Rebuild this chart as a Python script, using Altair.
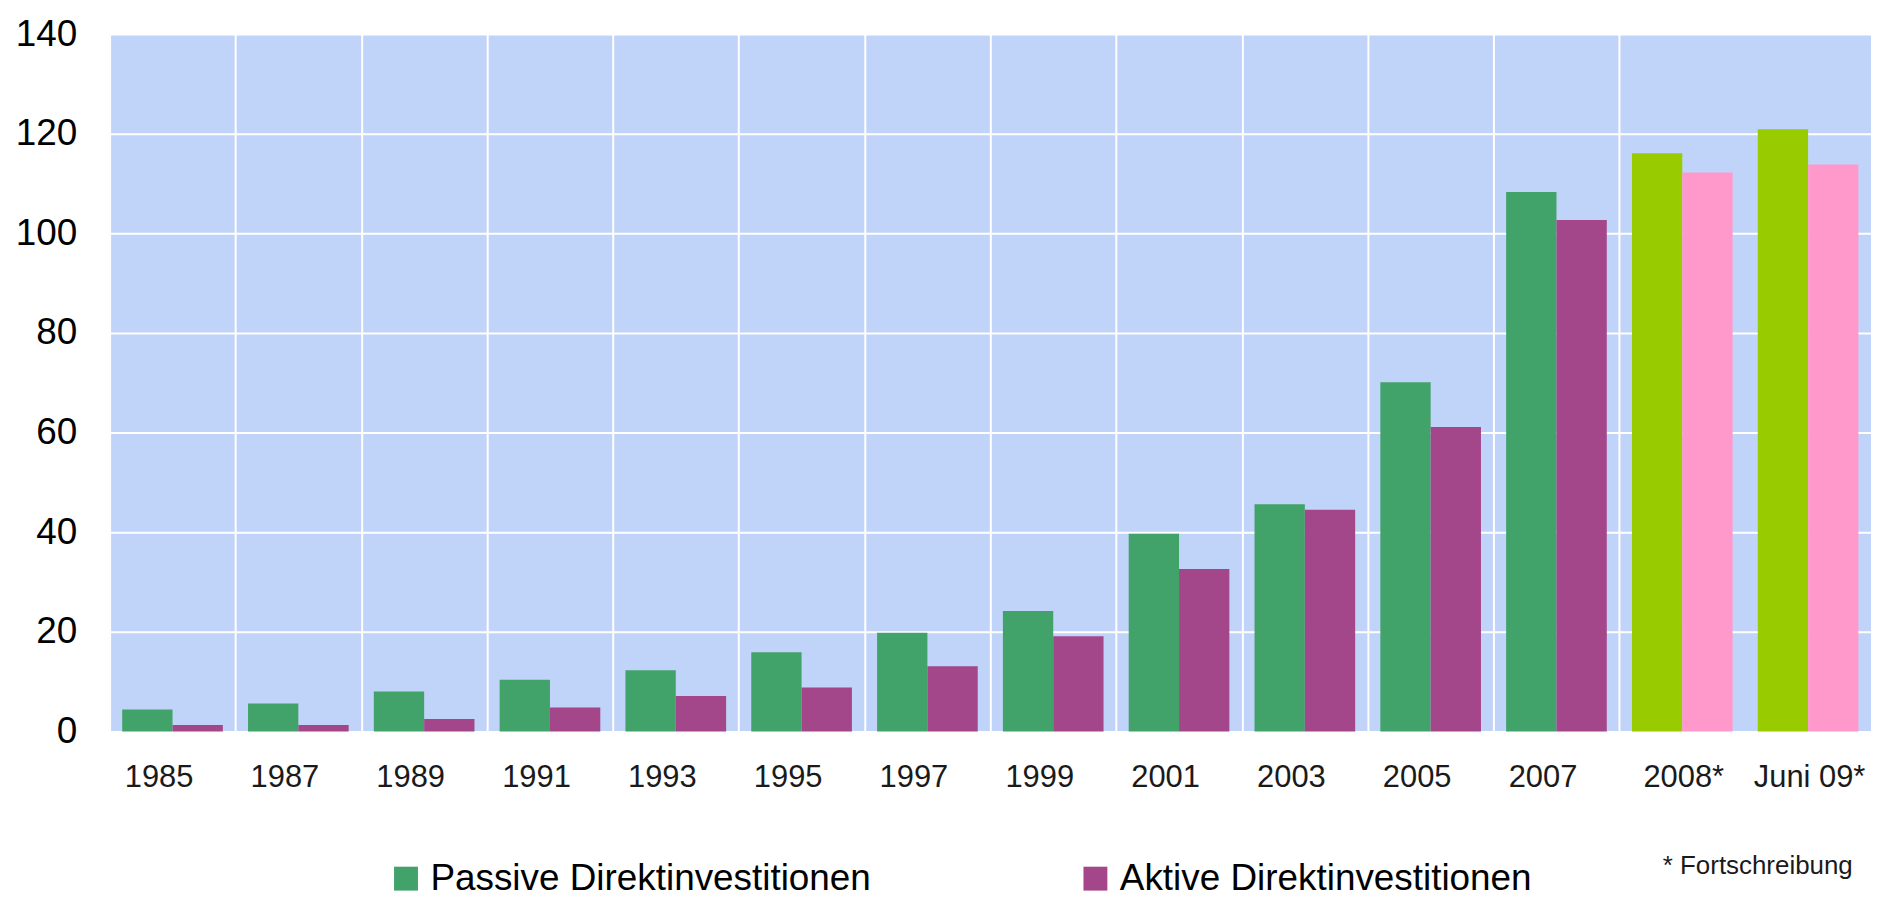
import altair as alt
import pandas as pd

categories = ["1985", "1987", "1989", "1991", "1993", "1995", "1997", "1999",
              "2001", "2003", "2005", "2007", "2008*", "Juni 09*"]
passive = [4.4, 5.6, 8.0, 10.4, 12.3, 15.9, 19.8, 24.2, 39.7, 45.6, 70.1, 108.3, 116.1, 120.9]
aktive = [1.3, 1.3, 2.5, 4.8, 7.1, 8.8, 13.1, 19.1, 32.6, 44.5, 61.1, 102.7, 112.2, 113.8]
series_names = ["Passive Direktinvestitionen", "Aktive Direktinvestitionen"]
y_ticks = [0, 20, 40, 60, 80, 100, 120, 140]
footnote = "* Fortschreibung"

proj_suffix = " (Fortschreibung)"
rows = []
for i, c in enumerate(categories):
    proj = c.endswith("*")
    for s, vals in zip(series_names, [passive, aktive]):
        rows.append({"Jahr": c, "Reihe": s, "Wert": vals[i], "Prognose": proj,
                     "Farbe": s + (proj_suffix if proj else "")})
df = pd.DataFrame(rows)

years_actual = [c for c in categories if not c.endswith("*")]
years_proj = [c for c in categories if c.endswith("*")]

color_domain = [series_names[0], series_names[1],
                series_names[0] + proj_suffix, series_names[1] + proj_suffix]
color_range = ["#42A36A", "#A3478A", "#99CC00", "#FF99CC"]

FONT = "Liberation Sans, Arial, sans-serif"


def x_axis(values, offset, grid):
    return alt.Axis(values=values, orient="bottom", labelAngle=0, tickBand="extent",
                    grid=grid, gridColor="#FFFFFF", gridWidth=2, gridOpacity=1,
                    domain=False, ticks=False,
                    labelFont=FONT, labelFontSize=31, labelColor="#1a1a1a",
                    labelPadding=31, labelOffset=offset)


legend = alt.Legend(values=series_names, orient="none",
                    legendX=279, legendY=829,
                    direction="horizontal", title=None,
                    symbolType="square", symbolSize=576,
                    symbolStrokeWidth=0, symbolOpacity=1,
                    labelFont=FONT, labelFontSize=37,
                    labelColor="#000000",
                    labelOffset=6, columnPadding=206,
                    labelLimit=900, padding=0)

x_scale = alt.Scale(domain=categories, paddingInner=0, paddingOuter=0)
xo = alt.XOffset("Reihe:N", sort=series_names,
                 scale=alt.Scale(paddingInner=0, paddingOuter=0.25))
y_enc = alt.Y("Wert:Q", scale=alt.Scale(domain=[0, 140], nice=False),
              axis=alt.Axis(values=y_ticks, title=None, grid=True, gridColor="#FFFFFF",
                            gridWidth=2, gridOpacity=1, domain=False, ticks=False,
                            labelFont=FONT, labelFontSize=37, labelColor="#000000",
                            labelPadding=33))
c_enc = alt.Color("Farbe:N", scale=alt.Scale(domain=color_domain, range=color_range),
                  legend=legend)

base = alt.Chart(df)

bars_actual = base.transform_filter("!datum.Prognose").mark_bar().encode(
    x=alt.X("Jahr:N", title=None, scale=x_scale, axis=x_axis(years_actual, -14, True)),
    xOffset=xo, y=y_enc, color=c_enc,
)

bars_proj = base.transform_filter("datum.Prognose").mark_bar().encode(
    x=alt.X("Jahr:N", title=None, scale=x_scale, axis=x_axis(years_proj, 1, False)),
    xOffset=xo, y=y_enc, color=c_enc,
)

note = alt.Chart(pd.DataFrame({"t": [footnote]})).mark_text(
    align="left", baseline="alphabetic", font=FONT, fontSize=26, color="#1a1a1a"
).encode(text="t:N", x=alt.value(1559), y=alt.value(843))

chart = alt.layer(bars_actual, bars_proj, note).resolve_axis(
    x="independent"
).properties(
    width=1768, height=700,
    view=alt.ViewBackground(fill="#C0D3F8", strokeWidth=0),
    autosize=alt.AutoSizeParams(type="none"),
    padding={"left": 102, "top": 24.5, "right": 0, "bottom": 166.5},
).configure(background="#FFFFFF")

chart.save("out.html", embed_options={"renderer": "svg", "actions": False})
